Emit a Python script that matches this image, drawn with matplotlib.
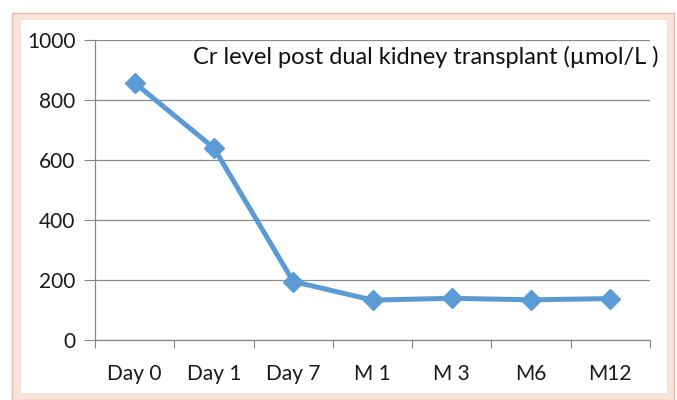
import matplotlib
matplotlib.use("Agg")
import matplotlib.pyplot as plt
from matplotlib.patches import Rectangle

categories = ["Day 0", "Day 1", "Day 7", "M 1", "M 3", "M6", "M12"]
cr_values = [857, 640, 195, 133, 139, 134, 138]
y_ticks = [0, 200, 400, 600, 800, 1000]
title_text = "Cr level post dual kidney transplant (\u00b5mol/L )"

FONT = "Lato"
W, H = 677, 400
fig = plt.figure(figsize=(W / 100, H / 100), dpi=100)
fig.patch.set_facecolor("white")

# pink frame
fig.patches.append(Rectangle((12 / W, 0), 662 / W, 387 / H, transform=fig.transFigure,
                             facecolor="#f8e3d8", edgecolor="#e9b9a2", linewidth=1.0, zorder=-3))
fig.patches.append(Rectangle((21 / W, 7 / H), 646 / W, 373 / H, transform=fig.transFigure,
                             facecolor="white", edgecolor="none", zorder=-2))

ax = fig.add_axes([95 / W, (H - 340) / H, (650 - 95) / W, 300 / H])
ax.set_zorder(1)
ax.set_facecolor("none")
x = list(range(len(categories)))
ax.plot(x, cr_values, color="#5b9bd5", linewidth=3.6, marker="D", markersize=10,
        markeredgecolor="#5b9bd5", markerfacecolor="#5b9bd5", zorder=3, solid_joinstyle="round")

ax.set_xlim(-0.5, len(categories) - 0.5)
ax.set_ylim(0, 1000)
ax.set_yticks(y_ticks)
ax.set_yticklabels([str(v) for v in y_ticks])
ax.set_xticks([i - 0.5 for i in range(len(categories) + 1)], minor=False)
ax.set_xticklabels([""] * (len(categories) + 1))
ax.set_xticks(x, minor=True)
ax.set_xticklabels(categories, minor=True)
ax.tick_params(axis="x", which="major", length=6, color="#868686", direction="out")
ax.tick_params(axis="x", which="minor", length=0, pad=17, labelsize=15, labelcolor="#1a1a1a")
ax.tick_params(axis="y", length=8, color="#868686", direction="out", pad=6, labelsize=15,
               labelcolor="#1a1a1a")

ax.grid(axis="y", color="#8c8c8c", linewidth=0.9)
ax.set_axisbelow(True)
for s in ["top", "right"]:
    ax.spines[s].set_visible(False)
for s in ["left", "bottom"]:
    ax.spines[s].set_color("#868686")
    ax.spines[s].set_linewidth(0.9)

for lbl in ax.get_xticklabels(minor=True) + ax.get_yticklabels():
    lbl.set_fontfamily(FONT)

ax.text(193 / W, (H - 57) / H, title_text, transform=fig.transFigure, fontsize=17,
        fontfamily=FONT, color="#111111", va="center", ha="left")

fig.savefig("out.png", dpi=100)
